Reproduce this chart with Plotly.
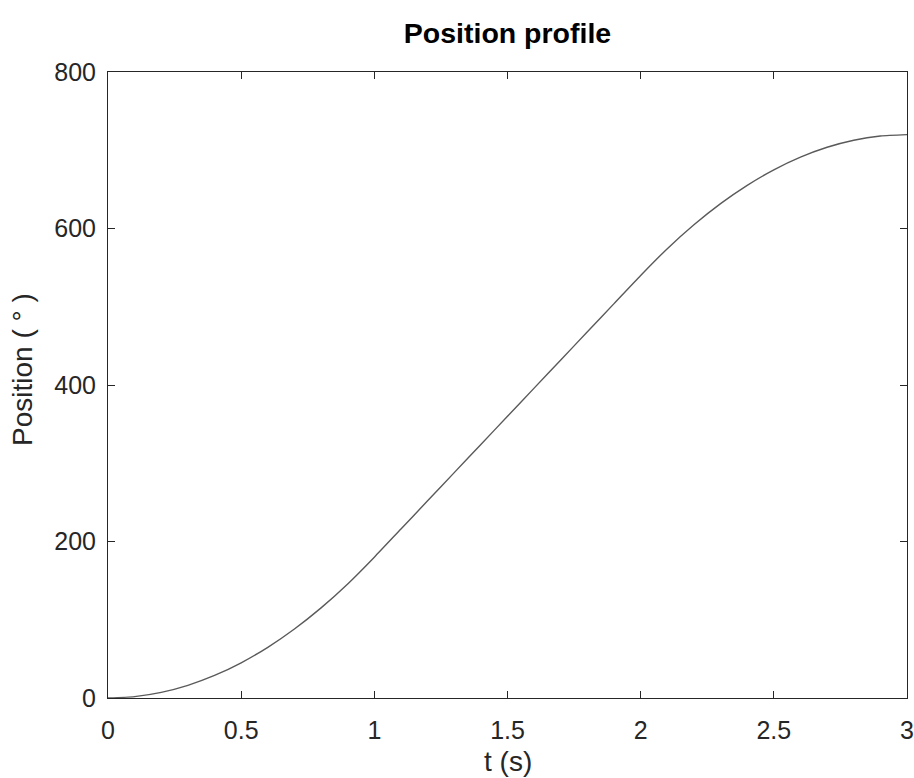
import plotly.graph_objects as go

t_s = [0.0, 0.1, 0.2, 0.3, 0.4, 0.5, 0.6, 0.7, 0.8, 0.9, 1.0,
       1.1, 1.2, 1.3, 1.4, 1.5, 1.6, 1.7, 1.8, 1.9, 2.0,
       2.1, 2.2, 2.3, 2.4, 2.5, 2.6, 2.7, 2.8, 2.9, 3.0]
position_deg = [0, 1.8, 7.2, 16.2, 28.8, 45, 64.8, 88.2, 115.2, 145.8, 180,
                216, 252, 288, 324, 360, 396, 432, 468, 504, 540,
                574.2, 604.8, 631.8, 655.2, 675, 691.2, 703.8, 712.8, 718.2, 720]

x_ticks = [0, 0.5, 1, 1.5, 2, 2.5, 3]
y_ticks = [0, 200, 400, 600, 800]

font = "Liberation Sans, Arial, sans-serif"
W, H = 914, 778

fig = go.Figure()
fig.add_trace(go.Scatter(x=t_s, y=position_deg, mode="lines",
                         line=dict(color="#5a5a5a", width=1.4, shape="spline", smoothing=0.6),
                         showlegend=False, hoverinfo="skip", cliponaxis=False))

axis_common = dict(showgrid=False, zeroline=False, showline=True, linecolor="#262626",
                   linewidth=1, mirror="allticks", ticks="inside", ticklen=7,
                   tickcolor="#262626", tickwidth=1, automargin=False,
                   tickfont=dict(family=font, size=25, color="#262626"))

fig.update_layout(
    width=W, height=H,
    paper_bgcolor="white", plot_bgcolor="white",
    margin=dict(l=108, r=7, t=72, b=80),
    title=dict(text="<b>Position profile</b>", x=0.5, xref="paper", xanchor="center",
               y=1 - 33 / H, yref="container", yanchor="middle",
               font=dict(family=font, size=28.5, color="black")),
    xaxis=dict(range=[0, 3], tickvals=x_ticks, ticktext=[str(v) for v in x_ticks],
               ticklabelstandoff=10, **axis_common),
    yaxis=dict(range=[0, 800], tickvals=y_ticks, ticktext=[str(v) for v in y_ticks],
               ticklabelstandoff=6, **axis_common),
)

plot_h = H - 72 - 80
fig.add_annotation(text="t (s)", xref="paper", x=0.5, yref="paper", y=-(761 - (H - 80)) / plot_h,
                   xanchor="center", yanchor="middle", showarrow=False,
                   font=dict(family=font, size=28, color="#262626"))
fig.add_annotation(text="Position ( ° )", textangle=-90, xref="paper", x=-(108 - 22) / (W - 108 - 7),
                   yref="paper", y=(H - 80 - 370) / plot_h, xanchor="center", yanchor="middle",
                   showarrow=False, font=dict(family=font, size=28, color="#262626"))

fig.write_html("out.html", config={"displayModeBar": False},
               post_script="document.body.style.margin='0';document.body.style.overflow='hidden';")
